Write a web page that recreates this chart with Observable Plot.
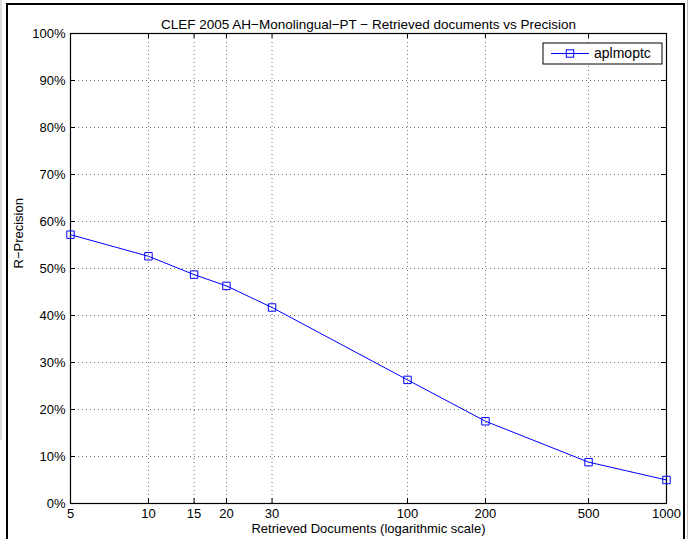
<!DOCTYPE html>
<html><head><meta charset="utf-8">
<script src="https://cdn.jsdelivr.net/npm/d3@7"></script>
<script src="https://cdn.jsdelivr.net/npm/@observablehq/plot@0.6"></script>
<style>body{margin:0;background:#fff} svg{display:block}</style>
</head><body><div id="chart"></div>
<script>
const docs = [5, 10, 15, 20, 30, 100, 200, 500, 1000];
const precision = [0.572, 0.526, 0.487, 0.463, 0.417, 0.263, 0.175, 0.088, 0.050];
const xTicks = [5, 10, 15, 20, 30, 100, 200, 500, 1000];
const yTicks = [0, 0.1, 0.2, 0.3, 0.4, 0.5, 0.6, 0.7, 0.8, 0.9, 1.0];
const seriesName = "aplmoptc";
const titleText = "CLEF 2005 AH\u2212Monolingual\u2212PT \u2212 Retrieved documents vs Precision";
const xLabel = "Retrieved Documents (logarithmic scale)";
const yLabel = "R\u2212Precision";

const data = docs.map((d, i) => ({docs: d, p: precision[i]}));
const W = 696, H = 539, mL = 70, mR = 30, mT = 33, mB = 36;
const font = "Liberation Sans, Arial, Helvetica, sans-serif";
const fs = 13;
const tickPx = 5;
const plotW = W - mL - mR, plotH = H - mT - mB;
const logSpan = Math.log10(1000 / 5);
const kx = Math.pow(10, logSpan * tickPx / plotW);
const ky = tickPx / plotH;
const innerX = xTicks.slice(1, -1);
const innerY = yTicks.slice(1, -1);
const pct = d => Math.round(d * 100) + "%";

const chart = Plot.plot({
  width: W, height: H,
  marginLeft: mL, marginRight: mR, marginTop: mT, marginBottom: mB,
  style: {fontFamily: font, fontSize: fs + "px", color: "#000", background: "#fff"},
  x: {type: "log", domain: [5, 1000], axis: null},
  y: {domain: [0, 1], axis: null},
  marks: [
    Plot.ruleX(innerX, {x: d => d, y1: 0, y2: 1, stroke: "#000", strokeOpacity: 0.55, strokeDasharray: "1,3"}),
    Plot.ruleY(innerY, {y: d => d, x1: 5, x2: 1000, stroke: "#000", strokeOpacity: 0.55, strokeDasharray: "1,3"}),
    Plot.ruleX(xTicks, {x: d => d, y1: 0, y2: ky, stroke: "#000"}),
    Plot.ruleX(xTicks, {x: d => d, y1: 1 - ky, y2: 1, stroke: "#000"}),
    Plot.ruleY(yTicks, {y: d => d, x1: 5, x2: 5 * kx, stroke: "#000"}),
    Plot.ruleY(yTicks, {y: d => d, x1: 1000 / kx, x2: 1000, stroke: "#000"}),
    Plot.frame({stroke: "#000", strokeWidth: 1.2}),
    Plot.text(xTicks, {x: d => d, y: 0, text: d => String(d), dy: 10, fontSize: fs, fill: "#000"}),
    Plot.text(yTicks, {x: 5, y: d => d, text: pct, dx: -5, textAnchor: "end", fontSize: fs, fill: "#000"}),
    Plot.line(data, {x: "docs", y: "p", stroke: "#0000ff", strokeWidth: 1}),
    Plot.dot(data, {x: "docs", y: "p", symbol: "square", r: 4.2, stroke: "#0000ff", fill: "none", strokeWidth: 1}),
    Plot.text([titleText], {text: d => d, frameAnchor: "top", dy: -14, fontSize: 13.5, fill: "#000"}),
    Plot.text([xLabel], {text: d => d, frameAnchor: "bottom", dy: 29, fontSize: fs, fill: "#000"}),
    Plot.text([yLabel], {text: d => d, frameAnchor: "left", dx: -52, rotate: -90, fontSize: fs, fill: "#000"})
  ]
});

const svg = d3.select(chart);
// window border decoration
svg.append("line").attr("x1", 1).attr("x2", 1).attr("y1", 0).attr("y2", 440).attr("stroke", "#bbb").attr("stroke-width", 1);
svg.append("line").attr("x1", 687.5).attr("x2", 687.5).attr("y1", 0).attr("y2", H).attr("stroke", "#bbb").attr("stroke-width", 1);
svg.append("path").attr("d", `M7,${H} V4 H684 V${H}`).attr("fill", "none").attr("stroke", "#000").attr("stroke-width", 2);

// legend
const lg = svg.append("g");
const lx = 543, ly = 43, lw = 119, lh = 21;
lg.append("rect").attr("x", lx).attr("y", ly).attr("width", lw).attr("height", lh).attr("fill", "#fff").attr("stroke", "#000").attr("stroke-width", 1);
lg.append("line").attr("x1", lx + 8).attr("x2", lx + 46).attr("y1", ly + lh / 2).attr("y2", ly + lh / 2).attr("stroke", "#0000ff");
lg.append("rect").attr("x", lx + 27 - 3.7).attr("y", ly + lh / 2 - 3.7).attr("width", 7.4).attr("height", 7.4).attr("fill", "none").attr("stroke", "#0000ff");
lg.append("text").attr("x", lx + 51).attr("y", ly + lh / 2).attr("dy", "0.35em").attr("text-anchor", "start").attr("font-family", font).attr("font-size", 14).text(seriesName);

document.getElementById("chart").appendChild(chart);
</script>
</body></html>
